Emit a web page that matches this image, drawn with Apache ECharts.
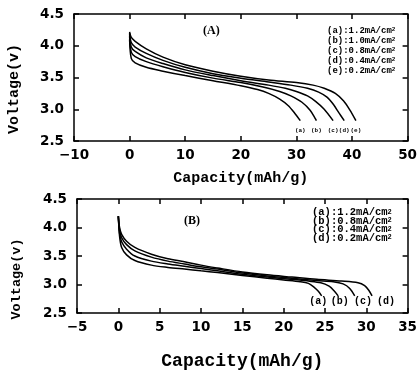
<!DOCTYPE html>
<html><head><meta charset="utf-8">
<script src="https://cdn.jsdelivr.net/npm/echarts@6/dist/echarts.min.js"></script>
<style>html,body{margin:0;padding:0;background:#fff}#c{width:420px;height:371px}</style>
</head><body><div id="c"></div>
<script>
// ---- Panel A data ----
const namesA = ['(a)','(b)','(c)','(d)','(e)'];
const ratesA = ['1.2','1.0','0.8','0.4','0.2'];
const A_a = [[0,4.1],[0.3,3.80],[1,3.73],[3,3.66],[6,3.60],[10,3.53],[15,3.45],[20,3.37],[23,3.31],[25,3.25],[27,3.16],[28.5,3.06],[29.6,2.95],[30.7,2.82]];
const A_b = [[0,4.15],[0.3,3.90],[1,3.83],[3,3.75],[6,3.67],[10,3.58],[15,3.49],[20,3.42],[24,3.35],[27,3.28],[29,3.21],[31,3.11],[32.5,2.98],[33.6,2.82]];
const A_c = [[0,4.18],[0.3,3.98],[1,3.91],[3,3.81],[6,3.72],[10,3.62],[15,3.53],[20,3.45],[25,3.38],[28,3.33],[30,3.28],[32,3.21],[33.5,3.12],[35,3.00],[36.6,2.82]];
const A_d = [[0,4.2],[0.3,4.05],[1,3.98],[3,3.88],[6,3.77],[10,3.66],[15,3.56],[20,3.49],[25,3.43],[29,3.38],[32,3.33],[34,3.27],[35.5,3.19],[36.7,3.07],[37.6,2.95],[38.6,2.82]];
const A_e = [[0,4.22],[0.3,4.13],[1,4.07],[3,3.95],[6,3.82],[10,3.70],[15,3.60],[20,3.52],[25,3.46],[30,3.42],[33,3.38],[35,3.33],[37,3.25],[38.5,3.13],[39.6,2.99],[40.7,2.82]];
const curvesA = [A_a, A_b, A_c, A_d, A_e];
const labelVA = 2.66;

// ---- Panel B data ----
const namesB = ['(a)','(b)','(c)','(d)'];
const ratesB = ['1.2','0.8','0.4','0.2'];
const B_a = [[0,4.2],[0.15,3.85],[0.4,3.65],[1,3.52],[2,3.42],[4,3.34],[6,3.30],[8,3.27],[10,3.24],[12,3.21],[15,3.16],[18,3.11],[20,3.08],[22,3.05],[23,3.02],[23.7,2.95],[24.2,2.88],[24.6,2.80]];
const B_b = [[0,4.2],[0.15,3.90],[0.4,3.75],[1,3.62],[2,3.50],[4,3.41],[6,3.36],[8,3.32],[10,3.28],[12,3.24],[15,3.18],[18,3.13],[21,3.09],[23,3.06],[24.5,3.03],[25.5,2.97],[26.1,2.89],[26.6,2.80]];
const B_c = [[0,4.2],[0.15,3.95],[0.4,3.82],[1,3.70],[2,3.59],[4,3.48],[6,3.41],[8,3.36],[10,3.31],[12,3.27],[15,3.20],[18,3.15],[21,3.11],[24,3.07],[26,3.05],[27.2,3.01],[28,2.93],[28.6,2.80]];
const B_d = [[0,4.2],[0.15,4.0],[0.4,3.88],[1,3.76],[2,3.65],[4,3.53],[6,3.45],[8,3.40],[10,3.34],[12,3.29],[15,3.22],[18,3.17],[21,3.13],[24,3.09],[27,3.06],[29,3.03],[29.8,2.98],[30.3,2.90],[30.7,2.80]];
const curvesB = [B_a, B_b, B_c, B_d];
const labelXB = [24.2, 26.8, 29.6, 32.4];
const labelVB = 2.70;

const chart = echarts.init(document.getElementById('c'), null, {renderer:'canvas'});
const tickFont = {color:'#000', fontFamily:'DejaVu Sans', fontWeight:'bold', fontSize:13.5};
const titleFont = {color:'#000', fontFamily:'Liberation Mono', fontWeight:'bold'};
const lineSty = {color:'#000', width:1.5};
const minusFmt = v => String(v).replace('-', '\u2212');

function xAxes(gi, min, max, interval, name, nameSize, nameGap) {
  return [
    {gridIndex:gi, type:'value', min, max, interval, position:'bottom',
     axisLine:{onZero:false, lineStyle:lineSty}, axisTick:{inside:true, length:5, lineStyle:lineSty},
     splitLine:{show:false}, axisLabel:Object.assign({margin:7, formatter:minusFmt}, tickFont),
     name, nameLocation:'middle', nameGap, nameTextStyle:Object.assign({fontSize:nameSize}, titleFont)},
    {gridIndex:gi, type:'value', min, max, interval, position:'top',
     axisLine:{onZero:false, lineStyle:lineSty}, axisTick:{inside:true, length:5, lineStyle:lineSty},
     splitLine:{show:false}, axisLabel:{show:false}}
  ];
}
function yAxes(gi) {
  return [
    {gridIndex:gi, type:'value', min:2.5, max:4.5, interval:0.5, position:'left',
     axisLine:{onZero:false, lineStyle:lineSty}, axisTick:{inside:true, length:5, lineStyle:lineSty},
     splitLine:{show:false}, axisLabel:Object.assign({margin:10, formatter:v=>v.toFixed(1)}, tickFont)},
    {gridIndex:gi, type:'value', min:2.5, max:4.5, interval:0.5, position:'right',
     axisLine:{onZero:false, lineStyle:lineSty}, axisTick:{inside:true, length:5, lineStyle:lineSty},
     splitLine:{show:false}, axisLabel:{show:false}}
  ];
}

const series = [];
curvesA.forEach((d, i) => {
  series.push({type:'line', xAxisIndex:0, yAxisIndex:0, data:d, showSymbol:false, smooth:0.3,
    lineStyle:{color:'#000', width:1.5}, silent:true,
    markPoint:{symbol:'circle', symbolSize:0, data:[{coord:[d[d.length-1][0], labelVA]}],
      label:{show:true, formatter:namesA[i], color:'#000', fontFamily:'Liberation Mono', fontWeight:'bold', fontSize:6}}});
});
curvesB.forEach((d, i) => {
  series.push({type:'line', xAxisIndex:2, yAxisIndex:2, data:d, showSymbol:false, smooth:0.3,
    lineStyle:{color:'#000', width:1.5}, silent:true,
    markPoint:{symbol:'circle', symbolSize:0, data:[{coord:[labelXB[i], labelVB]}],
      label:{show:true, formatter:namesB[i], color:'#000', fontFamily:'Liberation Mono', fontWeight:'bold', fontSize:10}}});
});

function legendText(names, rates) {
  return names.map((n, i) => n + ':' + rates[i] + 'mA/cm{s|2}').join('\n');
}

chart.setOption({
  animation:false,
  backgroundColor:'#fff',
  grid:[
    {left:74, top:14, width:335, height:127},
    {left:77, top:199, width:335, height:127}
  ],
  xAxis:[...xAxes(0, -10, 50, 10, 'Capacity(mAh/g)', 15, 30), ...xAxes(1, -5, 35, 5, 'Capacity(mAh/g)', 18, 39)],
  yAxis:[...yAxes(0), ...yAxes(1)],
  series,
  graphic:[
    {type:'text', x:14, y:89, rotation:Math.PI/2,
     style:{text:'Voltage(v)', font:'bold 15px "Liberation Mono"', fill:'#000', align:'center', verticalAlign:'middle'}},
    {type:'text', x:17, y:279, rotation:Math.PI/2,
     style:{text:'Voltage(v)', font:'bold 13.5px "Liberation Mono"', fill:'#000', align:'center', verticalAlign:'middle'}},
    {type:'text', left:203, top:25, style:{text:'(A)', font:'bold 12px "Liberation Serif"', fill:'#000'}},
    {type:'text', left:184, top:215, style:{text:'(B)', font:'bold 12px "Liberation Serif"', fill:'#000'}},
    {type:'text', left:327, top:26, style:{text:legendText(namesA, ratesA), fill:'#000', lineHeight:10,
      rich:{s:{fontSize:6, verticalAlign:'top', fontFamily:'Liberation Mono', fontWeight:'bold', lineHeight:4}},
      font:'bold 9px "Liberation Mono"'}},
    {type:'text', left:312, top:207, style:{text:legendText(namesB, ratesB), fill:'#000', lineHeight:8.5,
      rich:{s:{fontSize:7, verticalAlign:'top', fontFamily:'Liberation Mono', fontWeight:'bold', lineHeight:4}},
      font:'bold 10.5px "Liberation Mono"'}}
  ]
});
</script></body></html>
